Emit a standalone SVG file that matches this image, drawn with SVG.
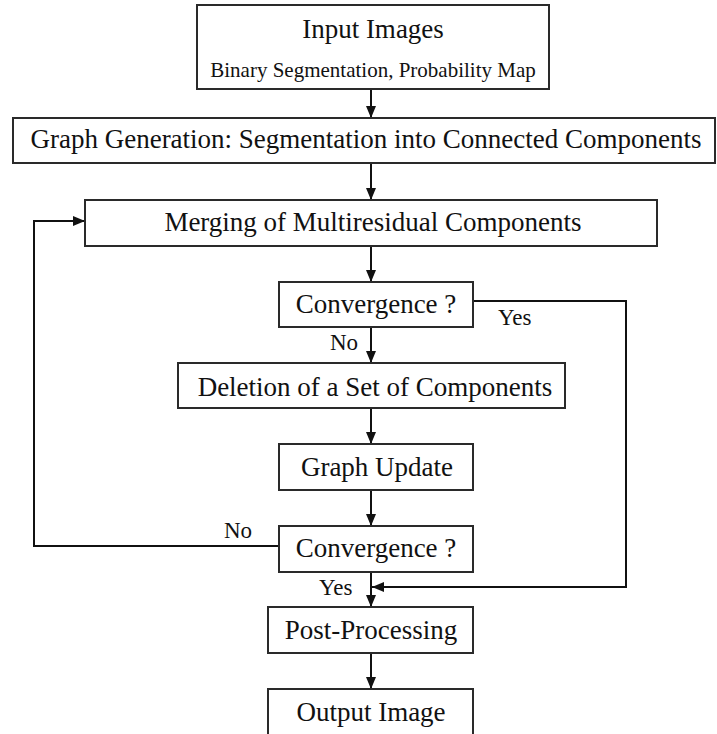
<svg xmlns="http://www.w3.org/2000/svg" width="717" height="734" viewBox="0 0 717 734">
<defs>
<marker id="ah" viewBox="0 0 12 10" markerWidth="12" markerHeight="10" refX="12" refY="5" orient="auto" markerUnits="userSpaceOnUse">
<path d="M0,0 L12,5 L0,10 z" fill="#111"/>
</marker>
<style>
.box{fill:#fff;stroke:#2a2a2a;stroke-width:2}
.t{font-size:27px;fill:#111;text-anchor:middle}
.s{font-size:21px;fill:#111;text-anchor:middle}
.l{font-size:23px;fill:#111}
.c{fill:none;stroke:#111;stroke-width:2}
</style>
</defs>
<rect width="717" height="734" fill="#fff"/>
<g id="connectors" font-family="Liberation Serif, DejaVu Serif, serif">
<line class="c" x1="371" y1="89" x2="371" y2="118" marker-end="url(#ah)"/>
<line class="c" x1="371" y1="163" x2="371" y2="200" marker-end="url(#ah)"/>
<line class="c" x1="371" y1="246" x2="371" y2="282" marker-end="url(#ah)"/>
<line class="c" x1="371" y1="327" x2="371" y2="363" marker-end="url(#ah)"/>
<line class="c" x1="371" y1="408" x2="371" y2="444" marker-end="url(#ah)"/>
<line class="c" x1="371" y1="490" x2="371" y2="526" marker-end="url(#ah)"/>
<line class="c" x1="371" y1="572" x2="371" y2="607" marker-end="url(#ah)"/>
<line class="c" x1="371" y1="653" x2="371" y2="689" marker-end="url(#ah)"/>
<polyline class="c" points="279,546 34,546 34,221 85,221" marker-end="url(#ah)"/>
<polyline class="c" points="473,301 626,301 626,587 372,587" marker-end="url(#ah)"/>
<text class="l" x="330" y="350">No</text>
<text class="l" x="498" y="325">Yes</text>
<text class="l" x="224" y="538">No</text>
<text class="l" x="319" y="595">Yes</text>
</g>
<g id="nodes" font-family="Liberation Serif, DejaVu Serif, serif">
<g id="input">
<rect class="box" x="197" y="5" width="352" height="84"/>
<text class="t" x="373" y="38">Input Images</text>
<text class="s" x="373" y="77">Binary Segmentation, Probability Map</text>
</g>
<g id="graphgen">
<rect class="box" x="13" y="118" width="702" height="45"/>
<text class="t" x="366" y="148">Graph Generation: Segmentation into Connected Components</text>
</g>
<g id="merging">
<rect class="box" x="85" y="200" width="572" height="46"/>
<text class="t" x="373" y="231">Merging of Multiresidual Components</text>
</g>
<g id="conv1">
<rect class="box" x="279" y="282" width="194" height="45"/>
<text class="t" x="376" y="313">Convergence ?</text>
</g>
<g id="deletion">
<rect class="box" x="178" y="363" width="387" height="45"/>
<text class="t" x="375" y="396">Deletion of a Set of Components</text>
</g>
<g id="update">
<rect class="box" x="279" y="444" width="194" height="46"/>
<text class="t" x="377" y="476">Graph Update</text>
</g>
<g id="conv2">
<rect class="box" x="279" y="526" width="194" height="46"/>
<text class="t" x="376" y="557">Convergence ?</text>
</g>
<g id="post">
<rect class="box" x="268" y="607" width="205" height="46"/>
<text class="t" x="371" y="639">Post-Processing</text>
</g>
<g id="output">
<rect class="box" x="268" y="689" width="205" height="48"/>
<text class="t" x="371" y="721">Output Image</text>
</g>
</g>
</svg>
